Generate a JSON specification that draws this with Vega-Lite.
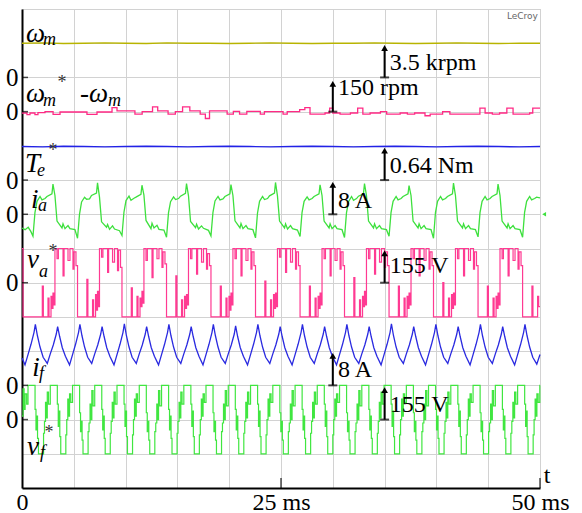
{
"$schema":"https://vega.github.io/schema/vega-lite/v6.json",
"width":518,"height":479,
"autosize":{"type":"none"},
"padding":{"left":22,"top":9,"right":42,"bottom":25},
"background":"white",
"config":{"view":{"stroke":"#bdbdbd","strokeWidth":1}},
"datasets":{
"wm":[{"t":0,"y":13.0},{"t":2,"y":13.01},{"t":4,"y":12.99},{"t":6,"y":13.0},{"t":8,"y":13.01},{"t":10,"y":13.0},{"t":12,"y":12.99},{"t":14,"y":13.01},{"t":16,"y":13.0},{"t":18,"y":13.0},{"t":20,"y":12.99},{"t":22,"y":13.0},{"t":24,"y":13.01},{"t":26,"y":13.0},{"t":28,"y":12.99},{"t":30,"y":13.0},{"t":32,"y":13.0},{"t":34,"y":13.01},{"t":36,"y":13.0},{"t":38,"y":12.99},{"t":40,"y":13.0},{"t":42,"y":13.01},{"t":44,"y":13.0},{"t":46,"y":12.99},{"t":48,"y":13.0},{"t":50,"y":13.0}],
"te":[{"t":0,"y":9.98},{"t":2,"y":9.97},{"t":4,"y":9.99},{"t":6,"y":9.98},{"t":8,"y":9.97},{"t":10,"y":9.98},{"t":12,"y":9.99},{"t":14,"y":9.98},{"t":16,"y":9.97},{"t":18,"y":9.98},{"t":20,"y":9.99},{"t":22,"y":9.98},{"t":24,"y":9.97},{"t":26,"y":9.98},{"t":28,"y":9.99},{"t":30,"y":9.98},{"t":32,"y":9.97},{"t":34,"y":9.98},{"t":36,"y":9.99},{"t":38,"y":9.98},{"t":40,"y":9.97},{"t":42,"y":9.98},{"t":44,"y":9.99},{"t":46,"y":9.98},{"t":48,"y":9.97},{"t":50,"y":9.98}],
"werr":[{"t":0,"y":10.96},{"t":0.48,"y":10.91},{"t":0.77,"y":10.96},{"t":1.25,"y":10.91},{"t":1.54,"y":10.97},{"t":2.22,"y":11.0},{"t":3.0,"y":10.92},{"t":3.67,"y":10.99},{"t":6.27,"y":10.92},{"t":7.24,"y":10.99},{"t":8.69,"y":11.12},{"t":9.17,"y":11.02},{"t":10.9,"y":10.93},{"t":11.6,"y":11.0},{"t":12.6,"y":11.14},{"t":13.1,"y":11.02},{"t":14.1,"y":10.93},{"t":14.8,"y":11.0},{"t":15.5,"y":11.14},{"t":16.2,"y":11.02},{"t":17.2,"y":10.93},{"t":17.7,"y":10.8},{"t":18.1,"y":11.02},{"t":19.8,"y":10.93},{"t":20.4,"y":11.01},{"t":21.0,"y":10.93},{"t":21.7,"y":11.01},{"t":23.0,"y":10.93},{"t":23.4,"y":11.0},{"t":25.2,"y":10.93},{"t":25.6,"y":11.0},{"t":26.8,"y":11.06},{"t":27.3,"y":11.12},{"t":27.8,"y":10.93},{"t":29.25,"y":10.96},{"t":29.7,"y":11.1},{"t":30.0,"y":10.96},{"t":30.7,"y":10.93},{"t":31.7,"y":10.96},{"t":32.4,"y":11.1},{"t":32.9,"y":10.93},{"t":33.6,"y":10.96},{"t":34.6,"y":11.0},{"t":35.2,"y":10.93},{"t":36.5,"y":10.96},{"t":37.2,"y":10.93},{"t":37.9,"y":10.96},{"t":38.9,"y":10.88},{"t":39.4,"y":10.93},{"t":40.6,"y":11.0},{"t":41.3,"y":10.93},{"t":44.2,"y":11.1},{"t":44.7,"y":10.96},{"t":45.4,"y":10.93},{"t":46.1,"y":10.96},{"t":46.8,"y":11.1},{"t":47.4,"y":10.93},{"t":49.0,"y":10.96},{"t":49.3,"y":11.1},{"t":50,"y":11.1}],
"ia":[{"t":0,"y":7.6},{"t":0.3,"y":7.55},{"t":0.6,"y":7.62},{"t":0.85,"y":7.5},
{"t":1.06,"y":7.36},{"t":1.25,"y":8.05},{"t":1.45,"y":8.38},{"t":1.74,"y":8.52},{"t":1.93,"y":8.42},{"t":2.22,"y":8.46},{"t":2.41,"y":8.52},{"t":2.89,"y":8.6},{"t":2.99,"y":8.88},{"t":3.18,"y":8.55},{"t":3.38,"y":7.8},{"t":3.86,"y":7.6},{"t":3.96,"y":7.72},{"t":4.15,"y":7.58},{"t":4.44,"y":7.67},{"t":4.63,"y":7.58},{"t":5.11,"y":7.55},
{"t":5.36,"y":7.3},{"t":5.55,"y":8.0},{"t":5.75,"y":8.36},{"t":6.04,"y":8.5},{"t":6.23,"y":8.44},{"t":6.52,"y":8.45},{"t":6.71,"y":8.55},{"t":7.19,"y":8.62},{"t":7.29,"y":8.92},{"t":7.48,"y":8.5},{"t":7.68,"y":7.78},{"t":8.16,"y":7.62},{"t":8.26,"y":7.7},{"t":8.45,"y":7.56},{"t":8.74,"y":7.66},{"t":8.93,"y":7.57},{"t":9.41,"y":7.52},
{"t":9.65,"y":7.38},{"t":9.84,"y":8.06},{"t":10.04,"y":8.4},{"t":10.33,"y":8.53},{"t":10.52,"y":8.41},{"t":10.81,"y":8.47},{"t":11.0,"y":8.5},{"t":11.48,"y":8.58},{"t":11.58,"y":8.85},{"t":11.77,"y":8.56},{"t":11.97,"y":7.82},{"t":12.45,"y":7.58},{"t":12.55,"y":7.74},{"t":12.74,"y":7.6},{"t":13.03,"y":7.68},{"t":13.22,"y":7.56},{"t":13.7,"y":7.54},
{"t":13.95,"y":7.33},{"t":14.14,"y":8.04},{"t":14.34,"y":8.37},{"t":14.63,"y":8.51},{"t":14.82,"y":8.43},{"t":15.11,"y":8.46},{"t":15.3,"y":8.53},{"t":15.78,"y":8.61},{"t":15.88,"y":8.9},{"t":16.07,"y":8.54},{"t":16.27,"y":7.79},{"t":16.75,"y":7.61},{"t":16.85,"y":7.71},{"t":17.04,"y":7.57},{"t":17.33,"y":7.66},{"t":17.52,"y":7.59},{"t":18.0,"y":7.53},
{"t":18.24,"y":7.37},{"t":18.43,"y":8.05},{"t":18.63,"y":8.39},{"t":18.92,"y":8.52},{"t":19.11,"y":8.42},{"t":19.4,"y":8.45},{"t":19.59,"y":8.52},{"t":20.07,"y":8.6},{"t":20.17,"y":8.87},{"t":20.36,"y":8.55},{"t":20.56,"y":7.81},{"t":21.04,"y":7.6},{"t":21.14,"y":7.73},{"t":21.33,"y":7.58},{"t":21.62,"y":7.67},{"t":21.81,"y":7.58},{"t":22.29,"y":7.55},
{"t":22.54,"y":7.31},{"t":22.73,"y":8.03},{"t":22.93,"y":8.38},{"t":23.22,"y":8.52},{"t":23.41,"y":8.43},{"t":23.7,"y":8.46},{"t":23.89,"y":8.54},{"t":24.37,"y":8.62},{"t":24.47,"y":8.93},{"t":24.66,"y":8.53},{"t":24.86,"y":7.8},{"t":25.34,"y":7.6},{"t":25.44,"y":7.72},{"t":25.63,"y":7.57},{"t":25.92,"y":7.67},{"t":26.11,"y":7.58},{"t":26.59,"y":7.54},
{"t":26.84,"y":7.35},{"t":27.03,"y":8.05},{"t":27.23,"y":8.38},{"t":27.52,"y":8.51},{"t":27.71,"y":8.42},{"t":28.0,"y":8.46},{"t":28.19,"y":8.52},{"t":28.67,"y":8.6},{"t":28.77,"y":8.86},{"t":28.96,"y":8.55},{"t":29.16,"y":7.8},{"t":29.64,"y":7.6},{"t":29.74,"y":7.72},{"t":29.93,"y":7.58},{"t":30.22,"y":7.67},{"t":30.41,"y":7.58},{"t":30.89,"y":7.55},
{"t":31.13,"y":7.32},{"t":31.32,"y":8.04},{"t":31.52,"y":8.37},{"t":31.81,"y":8.52},{"t":32.0,"y":8.41},{"t":32.29,"y":8.46},{"t":32.48,"y":8.53},{"t":32.96,"y":8.6},{"t":33.06,"y":8.9},{"t":33.25,"y":8.55},{"t":33.45,"y":7.8},{"t":33.93,"y":7.6},{"t":34.03,"y":7.72},{"t":34.22,"y":7.58},{"t":34.51,"y":7.67},{"t":34.7,"y":7.58},{"t":35.18,"y":7.55},
{"t":35.43,"y":7.36},{"t":35.62,"y":8.05},{"t":35.82,"y":8.38},{"t":36.11,"y":8.52},{"t":36.3,"y":8.42},{"t":36.59,"y":8.46},{"t":36.78,"y":8.52},{"t":37.26,"y":8.6},{"t":37.36,"y":8.84},{"t":37.55,"y":8.55},{"t":37.75,"y":7.8},{"t":38.23,"y":7.6},{"t":38.33,"y":7.72},{"t":38.52,"y":7.58},{"t":38.81,"y":7.67},{"t":39.0,"y":7.58},{"t":39.48,"y":7.55},
{"t":39.72,"y":7.3},{"t":39.91,"y":8.05},{"t":40.11,"y":8.38},{"t":40.4,"y":8.52},{"t":40.59,"y":8.42},{"t":40.88,"y":8.46},{"t":41.07,"y":8.52},{"t":41.55,"y":8.6},{"t":41.65,"y":8.91},{"t":41.84,"y":8.55},{"t":42.04,"y":7.8},{"t":42.52,"y":7.6},{"t":42.62,"y":7.72},{"t":42.81,"y":7.58},{"t":43.1,"y":7.67},{"t":43.29,"y":7.58},{"t":43.77,"y":7.55},
{"t":44.02,"y":7.34},{"t":44.21,"y":8.05},{"t":44.41,"y":8.38},{"t":44.7,"y":8.52},{"t":44.89,"y":8.42},{"t":45.18,"y":8.46},{"t":45.37,"y":8.52},{"t":45.85,"y":8.6},{"t":45.95,"y":8.88},{"t":46.14,"y":8.55},{"t":46.34,"y":7.8},{"t":46.82,"y":7.6},{"t":46.92,"y":7.72},{"t":47.11,"y":7.58},{"t":47.4,"y":7.67},{"t":47.59,"y":7.58},{"t":48.07,"y":7.55},
{"t":48.32,"y":7.33},{"t":48.51,"y":8.05},{"t":48.71,"y":8.38},{"t":49.0,"y":8.52},{"t":49.19,"y":8.42},{"t":49.48,"y":8.46},{"t":49.67,"y":8.5},{"t":50,"y":8.48}],
"va":[{"t":0,"y":7},{"t":0.1,"y":5},{"t":0.35,"y":5},
{"t":1.06,"y":5},{"t":1.96,"y":5.9},{"t":2.06,"y":5},{"t":2.51,"y":5.55},{"t":2.61,"y":5},{"t":2.8,"y":5.6},{"t":2.9,"y":5.25},{"t":2.99,"y":5.7},{"t":3.09,"y":5.35},{"t":3.18,"y":7},{"t":3.38,"y":6.7},{"t":3.51,"y":7},{"t":3.96,"y":6.2},{"t":4.06,"y":7},{"t":4.44,"y":6.65},{"t":4.63,"y":7},{"t":4.92,"y":6.4},{"t":5.02,"y":6.9},{"t":5.21,"y":6.5},
{"t":5.36,"y":5},{"t":6.26,"y":6.1},{"t":6.36,"y":5},{"t":6.81,"y":5.5},{"t":6.91,"y":5},{"t":7.1,"y":5.65},{"t":7.2,"y":5.2},{"t":7.29,"y":5.75},{"t":7.39,"y":5.3},{"t":7.48,"y":7},{"t":7.68,"y":6.75},{"t":7.81,"y":7},{"t":8.26,"y":6.3},{"t":8.36,"y":7},{"t":8.74,"y":6.6},{"t":8.93,"y":7},{"t":9.22,"y":6.35},{"t":9.32,"y":6.95},{"t":9.51,"y":6.45},
{"t":9.65,"y":5},{"t":10.55,"y":5.85},{"t":10.65,"y":5},{"t":11.1,"y":5.6},{"t":11.2,"y":5},{"t":11.39,"y":5.55},{"t":11.49,"y":5.3},{"t":11.58,"y":5.75},{"t":11.68,"y":5.4},{"t":11.77,"y":7},{"t":11.97,"y":6.65},{"t":12.1,"y":7},{"t":12.55,"y":6.15},{"t":12.65,"y":7},{"t":13.03,"y":6.7},{"t":13.22,"y":7},{"t":13.51,"y":6.45},{"t":13.61,"y":6.9},{"t":13.8,"y":6.55},
{"t":13.95,"y":5},{"t":14.85,"y":6.2},{"t":14.95,"y":5},{"t":15.4,"y":5.5},{"t":15.5,"y":5},{"t":15.69,"y":5.6},{"t":15.79,"y":5.25},{"t":15.88,"y":5.65},{"t":15.98,"y":5.35},{"t":16.07,"y":7},{"t":16.27,"y":6.7},{"t":16.4,"y":7},{"t":16.85,"y":6.25},{"t":16.95,"y":7},{"t":17.33,"y":6.6},{"t":17.52,"y":7},{"t":17.81,"y":6.4},{"t":17.91,"y":6.85},{"t":18.1,"y":6.5},
{"t":18.24,"y":5},{"t":19.14,"y":5.9},{"t":19.24,"y":5},{"t":19.69,"y":5.55},{"t":19.79,"y":5},{"t":19.98,"y":5.6},{"t":20.08,"y":5.2},{"t":20.17,"y":5.7},{"t":20.27,"y":5.35},{"t":20.36,"y":7},{"t":20.56,"y":6.7},{"t":20.69,"y":7},{"t":21.14,"y":6.2},{"t":21.24,"y":7},{"t":21.62,"y":6.65},{"t":21.81,"y":7},{"t":22.1,"y":6.4},{"t":22.2,"y":6.9},{"t":22.39,"y":6.5},
{"t":22.54,"y":5},{"t":23.44,"y":6.05},{"t":23.54,"y":5},{"t":23.99,"y":5.5},{"t":24.09,"y":5},{"t":24.28,"y":5.65},{"t":24.38,"y":5.25},{"t":24.47,"y":5.7},{"t":24.57,"y":5.3},{"t":24.66,"y":7},{"t":24.86,"y":6.75},{"t":24.99,"y":7},{"t":25.44,"y":6.3},{"t":25.54,"y":7},{"t":25.92,"y":6.6},{"t":26.11,"y":7},{"t":26.4,"y":6.4},{"t":26.5,"y":6.9},{"t":26.69,"y":6.5},
{"t":26.84,"y":5},{"t":27.74,"y":5.9},{"t":27.84,"y":5},{"t":28.29,"y":5.55},{"t":28.39,"y":5},{"t":28.58,"y":5.6},{"t":28.68,"y":5.25},{"t":28.77,"y":5.7},{"t":28.87,"y":5.35},{"t":28.96,"y":7},{"t":29.16,"y":6.7},{"t":29.29,"y":7},{"t":29.74,"y":6.2},{"t":29.84,"y":7},{"t":30.22,"y":6.65},{"t":30.41,"y":7},{"t":30.7,"y":6.4},{"t":30.8,"y":6.9},{"t":30.99,"y":6.5},
{"t":31.13,"y":5},{"t":32.03,"y":6.15},{"t":32.13,"y":5},{"t":32.58,"y":5.5},{"t":32.68,"y":5},{"t":32.87,"y":5.6},{"t":32.97,"y":5.3},{"t":33.06,"y":5.75},{"t":33.16,"y":5.35},{"t":33.25,"y":7},{"t":33.45,"y":6.7},{"t":33.58,"y":7},{"t":34.03,"y":6.25},{"t":34.13,"y":7},{"t":34.51,"y":6.6},{"t":34.7,"y":7},{"t":34.99,"y":6.45},{"t":35.09,"y":6.9},{"t":35.28,"y":6.5},
{"t":35.43,"y":5},{"t":36.33,"y":5.9},{"t":36.43,"y":5},{"t":36.88,"y":5.55},{"t":36.98,"y":5},{"t":37.17,"y":5.6},{"t":37.27,"y":5.25},{"t":37.36,"y":5.7},{"t":37.46,"y":5.35},{"t":37.55,"y":7},{"t":37.75,"y":6.7},{"t":37.88,"y":7},{"t":38.33,"y":6.2},{"t":38.43,"y":7},{"t":38.81,"y":6.65},{"t":39.0,"y":7},{"t":39.29,"y":6.4},{"t":39.39,"y":6.9},{"t":39.58,"y":6.5},
{"t":39.72,"y":5},{"t":40.62,"y":6.0},{"t":40.72,"y":5},{"t":41.17,"y":5.55},{"t":41.27,"y":5},{"t":41.46,"y":5.65},{"t":41.56,"y":5.25},{"t":41.65,"y":5.7},{"t":41.75,"y":5.35},{"t":41.84,"y":7},{"t":42.04,"y":6.7},{"t":42.17,"y":7},{"t":42.62,"y":6.2},{"t":42.72,"y":7},{"t":43.1,"y":6.65},{"t":43.29,"y":7},{"t":43.58,"y":6.4},{"t":43.68,"y":6.9},{"t":43.87,"y":6.5},
{"t":44.02,"y":5},{"t":44.92,"y":5.9},{"t":45.02,"y":5},{"t":45.47,"y":5.55},{"t":45.57,"y":5},{"t":45.76,"y":5.6},{"t":45.86,"y":5.25},{"t":45.95,"y":5.7},{"t":46.05,"y":5.35},{"t":46.14,"y":7},{"t":46.34,"y":6.7},{"t":46.47,"y":7},{"t":46.92,"y":6.2},{"t":47.02,"y":7},{"t":47.4,"y":6.65},{"t":47.59,"y":7},{"t":47.88,"y":6.4},{"t":47.98,"y":6.9},{"t":48.17,"y":6.5},
{"t":48.32,"y":5},{"t":49.22,"y":5.9},{"t":49.32,"y":5},{"t":49.77,"y":5.6},{"t":49.87,"y":5.3},{"t":50,"y":5.3}],
"iff":[{"t":0,"y":3.8},
{"t":0.29,"y":3.6},{"t":0.58,"y":3.9},{"t":0.87,"y":4.2},{"t":1.16,"y":4.55},{"t":1.29,"y":4.78},{"t":1.49,"y":4.45},{"t":1.74,"y":4.12},{"t":2.04,"y":3.82},
{"t":2.44,"y":3.64},{"t":2.73,"y":3.92},{"t":3.02,"y":4.18},{"t":3.31,"y":4.5},{"t":3.44,"y":4.72},{"t":3.64,"y":4.42},{"t":3.89,"y":4.1},{"t":4.19,"y":3.85},
{"t":4.59,"y":3.6},{"t":4.88,"y":3.9},{"t":5.17,"y":4.2},{"t":5.46,"y":4.55},{"t":5.59,"y":4.78},{"t":5.79,"y":4.45},{"t":6.04,"y":4.12},{"t":6.34,"y":3.82},
{"t":6.73,"y":3.64},{"t":7.02,"y":3.92},{"t":7.31,"y":4.18},{"t":7.6,"y":4.5},{"t":7.73,"y":4.72},{"t":7.93,"y":4.42},{"t":8.18,"y":4.1},{"t":8.48,"y":3.85},
{"t":8.88,"y":3.6},{"t":9.17,"y":3.9},{"t":9.46,"y":4.2},{"t":9.75,"y":4.55},{"t":9.88,"y":4.8},{"t":10.08,"y":4.45},{"t":10.33,"y":4.12},{"t":10.63,"y":3.82},
{"t":11.03,"y":3.64},{"t":11.32,"y":3.92},{"t":11.61,"y":4.18},{"t":11.9,"y":4.5},{"t":12.03,"y":4.72},{"t":12.23,"y":4.42},{"t":12.48,"y":4.1},{"t":12.78,"y":3.85},
{"t":13.18,"y":3.6},{"t":13.47,"y":3.9},{"t":13.76,"y":4.2},{"t":14.05,"y":4.55},{"t":14.18,"y":4.78},{"t":14.38,"y":4.45},{"t":14.63,"y":4.12},{"t":14.93,"y":3.82},
{"t":15.33,"y":3.64},{"t":15.62,"y":3.92},{"t":15.91,"y":4.18},{"t":16.2,"y":4.5},{"t":16.33,"y":4.72},{"t":16.53,"y":4.42},{"t":16.78,"y":4.1},{"t":17.08,"y":3.85},
{"t":17.47,"y":3.6},{"t":17.76,"y":3.9},{"t":18.05,"y":4.2},{"t":18.34,"y":4.55},{"t":18.47,"y":4.78},{"t":18.67,"y":4.45},{"t":18.92,"y":4.12},{"t":19.22,"y":3.82},
{"t":19.62,"y":3.64},{"t":19.91,"y":3.92},{"t":20.2,"y":4.18},{"t":20.49,"y":4.5},{"t":20.62,"y":4.74},{"t":20.82,"y":4.42},{"t":21.07,"y":4.1},{"t":21.37,"y":3.85},
{"t":21.77,"y":3.6},{"t":22.06,"y":3.9},{"t":22.35,"y":4.2},{"t":22.64,"y":4.55},{"t":22.77,"y":4.78},{"t":22.97,"y":4.45},{"t":23.22,"y":4.12},{"t":23.52,"y":3.82},
{"t":23.92,"y":3.64},{"t":24.21,"y":3.92},{"t":24.5,"y":4.18},{"t":24.79,"y":4.5},{"t":24.92,"y":4.72},{"t":25.12,"y":4.42},{"t":25.37,"y":4.1},{"t":25.67,"y":3.85},
{"t":26.07,"y":3.6},{"t":26.36,"y":3.9},{"t":26.65,"y":4.2},{"t":26.94,"y":4.55},{"t":27.07,"y":4.78},{"t":27.27,"y":4.45},{"t":27.52,"y":4.12},{"t":27.82,"y":3.82},
{"t":28.21,"y":3.64},{"t":28.5,"y":3.92},{"t":28.79,"y":4.18},{"t":29.08,"y":4.5},{"t":29.21,"y":4.72},{"t":29.41,"y":4.42},{"t":29.66,"y":4.1},{"t":29.96,"y":3.85},
{"t":30.36,"y":3.6},{"t":30.65,"y":3.9},{"t":30.94,"y":4.2},{"t":31.23,"y":4.55},{"t":31.36,"y":4.78},{"t":31.56,"y":4.45},{"t":31.81,"y":4.12},{"t":32.11,"y":3.82},
{"t":32.51,"y":3.64},{"t":32.8,"y":3.92},{"t":33.09,"y":4.18},{"t":33.38,"y":4.5},{"t":33.51,"y":4.72},{"t":33.71,"y":4.42},{"t":33.96,"y":4.1},{"t":34.26,"y":3.85},
{"t":34.66,"y":3.6},{"t":34.95,"y":3.9},{"t":35.24,"y":4.2},{"t":35.53,"y":4.55},{"t":35.66,"y":4.8},{"t":35.86,"y":4.45},{"t":36.11,"y":4.12},{"t":36.41,"y":3.82},
{"t":36.81,"y":3.64},{"t":37.1,"y":3.92},{"t":37.39,"y":4.18},{"t":37.68,"y":4.5},{"t":37.81,"y":4.72},{"t":38.01,"y":4.42},{"t":38.26,"y":4.1},{"t":38.56,"y":3.85},
{"t":38.95,"y":3.6},{"t":39.24,"y":3.9},{"t":39.53,"y":4.2},{"t":39.82,"y":4.55},{"t":39.95,"y":4.78},{"t":40.15,"y":4.45},{"t":40.4,"y":4.12},{"t":40.7,"y":3.82},
{"t":41.1,"y":3.64},{"t":41.39,"y":3.92},{"t":41.68,"y":4.18},{"t":41.97,"y":4.5},{"t":42.1,"y":4.72},{"t":42.3,"y":4.42},{"t":42.55,"y":4.1},{"t":42.85,"y":3.85},
{"t":43.25,"y":3.6},{"t":43.54,"y":3.9},{"t":43.83,"y":4.2},{"t":44.12,"y":4.55},{"t":44.25,"y":4.78},{"t":44.45,"y":4.45},{"t":44.7,"y":4.12},{"t":45.0,"y":3.82},
{"t":45.4,"y":3.64},{"t":45.69,"y":3.92},{"t":45.98,"y":4.18},{"t":46.27,"y":4.5},{"t":46.4,"y":4.72},{"t":46.6,"y":4.42},{"t":46.85,"y":4.1},{"t":47.15,"y":3.85},
{"t":47.55,"y":3.6},{"t":47.84,"y":3.9},{"t":48.13,"y":4.2},{"t":48.42,"y":4.55},{"t":48.55,"y":4.78},{"t":48.75,"y":4.45},{"t":49.0,"y":4.12},{"t":49.3,"y":3.82},
{"t":49.69,"y":3.62},{"t":50,"y":3.9}],
"vf":[{"t":0,"y":2.1},{"t":0.1,"y":2.9},{"t":0.2,"y":2.3},{"t":0.3,"y":2.75},{"t":0.45,"y":2.45},
{"t":0.58,"y":3},{"t":1.26,"y":2.3},{"t":1.35,"y":1.7},{"t":1.45,"y":2.1},{"t":1.5,"y":1.45},{"t":1.59,"y":1},{"t":2.08,"y":1.6},{"t":2.17,"y":1.95},{"t":2.27,"y":2.5},{"t":2.37,"y":2.05},{"t":2.44,"y":2.8},{"t":2.56,"y":2.45},
{"t":2.73,"y":3},{"t":3.41,"y":2.45},{"t":3.5,"y":1.8},{"t":3.6,"y":2.25},{"t":3.65,"y":1.5},{"t":3.74,"y":1},{"t":4.23,"y":1.55},{"t":4.32,"y":2.0},{"t":4.42,"y":2.6},{"t":4.52,"y":2.1},{"t":4.59,"y":2.75},{"t":4.71,"y":2.5},
{"t":4.88,"y":3},{"t":5.56,"y":2.2},{"t":5.65,"y":1.65},{"t":5.75,"y":1.95},{"t":5.8,"y":1.4},{"t":5.89,"y":1},{"t":6.38,"y":1.65},{"t":6.47,"y":1.9},{"t":6.57,"y":2.45},{"t":6.67,"y":2.0},{"t":6.74,"y":2.85},{"t":6.86,"y":2.4},
{"t":7.02,"y":3},{"t":7.7,"y":2.3},{"t":7.79,"y":1.7},{"t":7.89,"y":2.1},{"t":7.94,"y":1.45},{"t":8.03,"y":1},{"t":8.52,"y":1.6},{"t":8.61,"y":1.95},{"t":8.71,"y":2.5},{"t":8.81,"y":2.05},{"t":8.88,"y":2.8},{"t":9.0,"y":2.45},
{"t":9.17,"y":3},{"t":9.85,"y":2.45},{"t":9.94,"y":1.8},{"t":10.04,"y":2.25},{"t":10.09,"y":1.5},{"t":10.18,"y":1},{"t":10.67,"y":1.55},{"t":10.76,"y":2.0},{"t":10.86,"y":2.6},{"t":10.96,"y":2.1},{"t":11.03,"y":2.75},{"t":11.15,"y":2.5},
{"t":11.32,"y":3},{"t":12.0,"y":2.2},{"t":12.09,"y":1.65},{"t":12.19,"y":1.95},{"t":12.24,"y":1.4},{"t":12.33,"y":1},{"t":12.82,"y":1.65},{"t":12.91,"y":1.9},{"t":13.01,"y":2.45},{"t":13.11,"y":2.0},{"t":13.18,"y":2.85},{"t":13.3,"y":2.4},
{"t":13.47,"y":3},{"t":14.15,"y":2.3},{"t":14.24,"y":1.7},{"t":14.34,"y":2.1},{"t":14.39,"y":1.45},{"t":14.48,"y":1},{"t":14.97,"y":1.6},{"t":15.06,"y":1.95},{"t":15.16,"y":2.5},{"t":15.26,"y":2.05},{"t":15.33,"y":2.8},{"t":15.45,"y":2.45},
{"t":15.62,"y":3},{"t":16.3,"y":2.45},{"t":16.39,"y":1.8},{"t":16.49,"y":2.25},{"t":16.54,"y":1.5},{"t":16.63,"y":1},{"t":17.12,"y":1.55},{"t":17.21,"y":2.0},{"t":17.31,"y":2.6},{"t":17.41,"y":2.1},{"t":17.48,"y":2.75},{"t":17.6,"y":2.5},
{"t":17.76,"y":3},{"t":18.44,"y":2.2},{"t":18.53,"y":1.65},{"t":18.63,"y":1.95},{"t":18.68,"y":1.4},{"t":18.77,"y":1},{"t":19.26,"y":1.65},{"t":19.35,"y":1.9},{"t":19.45,"y":2.45},{"t":19.55,"y":2.0},{"t":19.62,"y":2.85},{"t":19.74,"y":2.4},
{"t":19.91,"y":3},{"t":20.59,"y":2.3},{"t":20.68,"y":1.7},{"t":20.78,"y":2.1},{"t":20.83,"y":1.45},{"t":20.92,"y":1},{"t":21.41,"y":1.6},{"t":21.5,"y":1.95},{"t":21.6,"y":2.5},{"t":21.7,"y":2.05},{"t":21.77,"y":2.8},{"t":21.89,"y":2.45},
{"t":22.06,"y":3},{"t":22.74,"y":2.45},{"t":22.83,"y":1.8},{"t":22.93,"y":2.25},{"t":22.98,"y":1.5},{"t":23.07,"y":1},{"t":23.56,"y":1.55},{"t":23.65,"y":2.0},{"t":23.75,"y":2.6},{"t":23.85,"y":2.1},{"t":23.92,"y":2.75},{"t":24.04,"y":2.5},
{"t":24.21,"y":3},{"t":24.89,"y":2.2},{"t":24.98,"y":1.65},{"t":25.08,"y":1.95},{"t":25.13,"y":1.4},{"t":25.22,"y":1},{"t":25.71,"y":1.65},{"t":25.8,"y":1.9},{"t":25.9,"y":2.45},{"t":26.0,"y":2.0},{"t":26.07,"y":2.85},{"t":26.19,"y":2.4},
{"t":26.36,"y":3},{"t":27.04,"y":2.3},{"t":27.13,"y":1.7},{"t":27.23,"y":2.1},{"t":27.28,"y":1.45},{"t":27.37,"y":1},{"t":27.86,"y":1.6},{"t":27.95,"y":1.95},{"t":28.05,"y":2.5},{"t":28.15,"y":2.05},{"t":28.22,"y":2.8},{"t":28.34,"y":2.45},
{"t":28.5,"y":3},{"t":29.18,"y":2.45},{"t":29.27,"y":1.8},{"t":29.37,"y":2.25},{"t":29.42,"y":1.5},{"t":29.51,"y":1},{"t":30.0,"y":1.55},{"t":30.09,"y":2.0},{"t":30.19,"y":2.6},{"t":30.29,"y":2.1},{"t":30.36,"y":2.75},{"t":30.48,"y":2.5},
{"t":30.65,"y":3},{"t":31.33,"y":2.2},{"t":31.42,"y":1.65},{"t":31.52,"y":1.95},{"t":31.57,"y":1.4},{"t":31.66,"y":1},{"t":32.15,"y":1.65},{"t":32.24,"y":1.9},{"t":32.34,"y":2.45},{"t":32.44,"y":2.0},{"t":32.51,"y":2.85},{"t":32.63,"y":2.4},
{"t":32.8,"y":3},{"t":33.48,"y":2.3},{"t":33.57,"y":1.7},{"t":33.67,"y":2.1},{"t":33.72,"y":1.45},{"t":33.81,"y":1},{"t":34.3,"y":1.6},{"t":34.39,"y":1.95},{"t":34.49,"y":2.5},{"t":34.59,"y":2.05},{"t":34.66,"y":2.8},{"t":34.78,"y":2.45},
{"t":34.95,"y":3},{"t":35.63,"y":2.45},{"t":35.72,"y":1.8},{"t":35.82,"y":2.25},{"t":35.87,"y":1.5},{"t":35.96,"y":1},{"t":36.45,"y":1.55},{"t":36.54,"y":2.0},{"t":36.64,"y":2.6},{"t":36.74,"y":2.1},{"t":36.81,"y":2.75},{"t":36.93,"y":2.5},
{"t":37.1,"y":3},{"t":37.78,"y":2.2},{"t":37.87,"y":1.65},{"t":37.97,"y":1.95},{"t":38.02,"y":1.4},{"t":38.11,"y":1},{"t":38.6,"y":1.65},{"t":38.69,"y":1.9},{"t":38.79,"y":2.45},{"t":38.89,"y":2.0},{"t":38.96,"y":2.85},{"t":39.08,"y":2.4},
{"t":39.24,"y":3},{"t":39.92,"y":2.3},{"t":40.01,"y":1.7},{"t":40.11,"y":2.1},{"t":40.16,"y":1.45},{"t":40.25,"y":1},{"t":40.74,"y":1.6},{"t":40.83,"y":1.95},{"t":40.93,"y":2.5},{"t":41.03,"y":2.05},{"t":41.1,"y":2.8},{"t":41.22,"y":2.45},
{"t":41.39,"y":3},{"t":42.07,"y":2.45},{"t":42.16,"y":1.8},{"t":42.26,"y":2.25},{"t":42.31,"y":1.5},{"t":42.4,"y":1},{"t":42.89,"y":1.55},{"t":42.98,"y":2.0},{"t":43.08,"y":2.6},{"t":43.18,"y":2.1},{"t":43.25,"y":2.75},{"t":43.37,"y":2.5},
{"t":43.54,"y":3},{"t":44.22,"y":2.2},{"t":44.31,"y":1.65},{"t":44.41,"y":1.95},{"t":44.46,"y":1.4},{"t":44.55,"y":1},{"t":45.04,"y":1.65},{"t":45.13,"y":1.9},{"t":45.23,"y":2.45},{"t":45.33,"y":2.0},{"t":45.4,"y":2.85},{"t":45.52,"y":2.4},
{"t":45.69,"y":3},{"t":46.37,"y":2.3},{"t":46.46,"y":1.7},{"t":46.56,"y":2.1},{"t":46.61,"y":1.45},{"t":46.7,"y":1},{"t":47.19,"y":1.6},{"t":47.28,"y":1.95},{"t":47.38,"y":2.5},{"t":47.48,"y":2.05},{"t":47.55,"y":2.8},{"t":47.67,"y":2.45},
{"t":47.84,"y":3},{"t":48.52,"y":2.45},{"t":48.61,"y":1.8},{"t":48.71,"y":2.25},{"t":48.76,"y":1.5},{"t":48.85,"y":1},{"t":49.34,"y":1.55},{"t":49.43,"y":2.0},{"t":49.53,"y":2.6},{"t":49.63,"y":2.1},{"t":49.7,"y":2.75},{"t":49.82,"y":2.5},{"t":49.98,"y":3},{"t":50,"y":3}],
"arrows":[{"t":35,"y":12,"ya":12.86},{"t":30,"y":11,"ya":11.81},{"t":35,"y":9,"ya":9.86},{"t":30,"y":8,"ya":8.86},{"t":35,"y":6,"ya":6.86},{"t":30,"y":3,"ya":3.86},{"t":35,"y":2,"ya":2.86}],
"alabels":[{"t":35.5,"y":12.41,"label":"3.5 krpm"},{"t":30.5,"y":11.68,"label":"150 rpm"},{"t":35.5,"y":9.4,"label":"0.64 Nm"},{"t":30.5,"y":8.39,"label":"8 A"},{"t":35.5,"y":6.49,"label":"155 V"},{"t":30.5,"y":3.46,"label":"8 A"},{"t":35.5,"y":2.44,"label":"155 V"}],
"gmain":[{"t":0.39,"y":13.04,"label":"ω"},{"t":0.39,"y":11.29,"label":"ω"},{"t":5.6,"y":11.29,"label":"-ω"},{"t":0.29,"y":9.24,"label":"T"},{"t":0.87,"y":8.19,"label":"i"},{"t":0.48,"y":6.43,"label":"v"},{"t":1.0,"y":3.27,"label":"i"},{"t":0.48,"y":0.96,"label":"v"}],
"gsub":[{"t":2.03,"y":12.95,"label":"m"},{"t":2.03,"y":11.17,"label":"m"},{"t":8.3,"y":11.17,"label":"m"},{"t":1.45,"y":9.12,"label":"e"},{"t":1.54,"y":8.1,"label":"a"},{"t":1.64,"y":6.17,"label":"a"},{"t":1.64,"y":3.2,"label":"f"},{"t":1.74,"y":0.88,"label":"f"}],
"gstar":[{"t":3.86,"y":11.84,"label":"*"},{"t":3.0,"y":9.85,"label":"*"},{"t":3.0,"y":6.9,"label":"*"},{"t":2.6,"y":1.6,"label":"*"}],
"xticks":[{"t":25,"y":0.146},{"t":50,"y":0.146}],
"yticks":[{"t":0.29,"y":2},{"t":0.29,"y":3},{"t":0.29,"y":6},{"t":0.29,"y":8},{"t":0.29,"y":9},{"t":0.29,"y":11},{"t":0.29,"y":12}],
"tlab":[{"t":50.68,"y":0.35,"label":"t"}],
"brand":[{"t":49.8,"y":13.8,"label":"LeCroy"}],
"marker":[{"t":50.4,"y":8}]
},
"encoding":{
"x":{"field":"t","type":"quantitative","scale":{"domain":[0,50],"nice":false,"zero":false},
"axis":{"title":null,"values":[0,5,10,15,20,25,30,35,40,45,50],
"labelExpr":"datum.value == 0 ? '0' : datum.value == 25 ? '25 ms' : datum.value == 50 ? '50 ms' : ''",
"grid":true,"gridColor":"#d2d2d2","gridWidth":1,
"domainColor":"black","domainWidth":2,"ticks":false,
"labelFont":"serif","labelFontSize":24,"labelColor":"black","labelPadding":2,"labelFlush":false,"labelOverlap":false}},
"y":{"field":"y","type":"quantitative","scale":{"domain":[0,14],"nice":false,"zero":false},
"axis":{"title":null,"values":[0,1,2,3,4,5,6,7,8,9,10,11,12,13,14],
"labelExpr":"indexof([2,3,6,8,9,11,12], datum.value) >= 0 ? '0' : ''",
"grid":true,"gridColor":"#d2d2d2","gridWidth":1,
"domainColor":"black","domainWidth":2,"ticks":false,
"labelFont":"serif","labelFontSize":25,"labelColor":"black","labelPadding":4,"labelOverlap":false}}
},
"layer":[
{"data":{"name":"wm"},"mark":{"type":"line","color":"#b8b400","strokeWidth":1.4}},
{"data":{"name":"werr"},"mark":{"type":"line","color":"#ff2a85","strokeWidth":1.3,"interpolate":"step-after"}},
{"data":{"name":"te"},"mark":{"type":"line","color":"#2222e6","strokeWidth":1.4}},
{"data":{"name":"ia"},"mark":{"type":"line","color":"#3ee03e","strokeWidth":1.3}},
{"data":{"name":"va"},"mark":{"type":"line","color":"#ff3a92","strokeWidth":1.2,"interpolate":"step-after"}},
{"data":{"name":"iff"},"mark":{"type":"line","color":"#2a2ae0","strokeWidth":1.3}},
{"data":{"name":"vf"},"mark":{"type":"line","color":"#40e640","strokeWidth":1.2,"interpolate":"step-after"}},
{"data":{"name":"xticks"},"mark":{"type":"tick","orient":"vertical","color":"black","size":10,"thickness":1.5}},
{"data":{"name":"yticks"},"mark":{"type":"tick","orient":"horizontal","color":"black","size":6,"thickness":1.5}},
{"data":{"name":"arrows"},"mark":{"type":"rule","color":"black","strokeWidth":2},"encoding":{"y2":{"field":"ya"}}},
{"data":{"name":"arrows"},"mark":{"type":"tick","orient":"horizontal","color":"black","size":9,"thickness":2}},
{"data":{"name":"arrows"},"mark":{"type":"point","shape":"triangle-up","filled":true,"color":"black","size":45,"opacity":1},"encoding":{"y":{"field":"ya","type":"quantitative"}}},
{"data":{"name":"alabels"},"mark":{"type":"text","align":"left","baseline":"middle","font":"serif","fontSize":24,"color":"black"},"encoding":{"text":{"field":"label"}}},
{"data":{"name":"gmain"},"mark":{"type":"text","align":"left","baseline":"alphabetic","font":"serif","fontStyle":"italic","fontSize":27,"color":"black"},"encoding":{"text":{"field":"label"}}},
{"data":{"name":"gsub"},"mark":{"type":"text","align":"left","baseline":"alphabetic","font":"serif","fontStyle":"italic","fontSize":18,"color":"black"},"encoding":{"text":{"field":"label"}}},
{"data":{"name":"gstar"},"mark":{"type":"text","align":"center","baseline":"middle","font":"serif","fontSize":18,"color":"#333333"},"encoding":{"text":{"field":"label"}}},
{"data":{"name":"tlab"},"mark":{"type":"text","align":"center","baseline":"middle","font":"serif","fontSize":24,"color":"black"},"encoding":{"text":{"field":"label"}}},
{"data":{"name":"brand"},"mark":{"type":"text","align":"right","baseline":"middle","font":"DejaVu Sans","fontSize":9,"color":"#666666"},"encoding":{"text":{"field":"label"}}},
{"data":{"name":"marker"},"mark":{"type":"point","shape":"triangle-left","filled":true,"color":"#3ee03e","size":20,"opacity":1}}
]
}
